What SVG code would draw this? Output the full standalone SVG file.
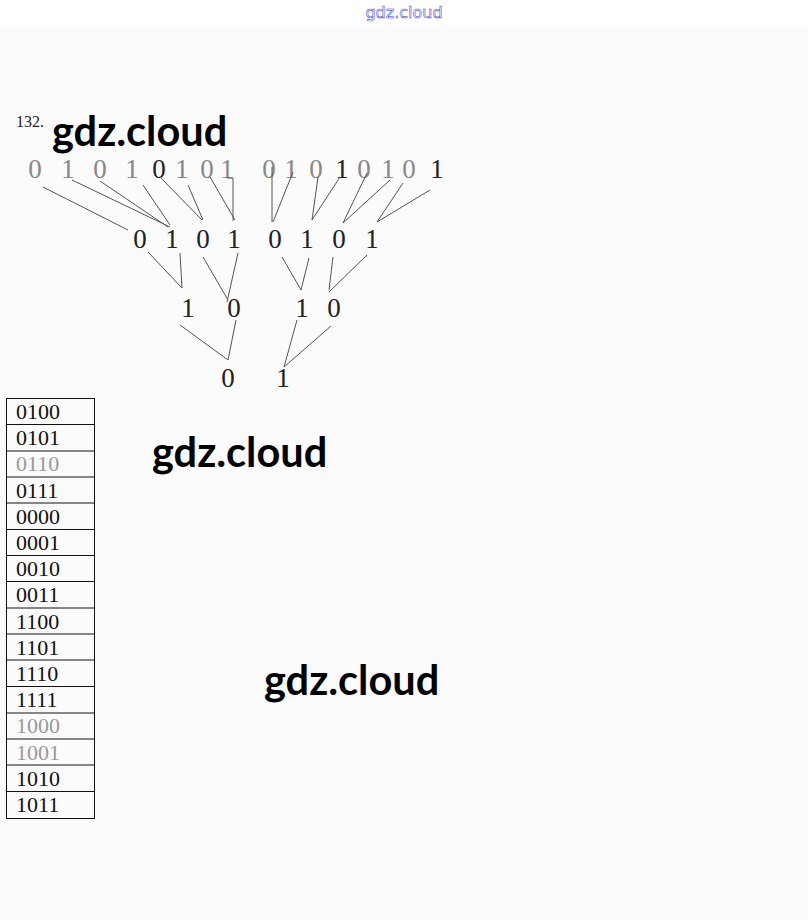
<svg xmlns="http://www.w3.org/2000/svg" width="808" height="920" viewBox="0 0 808 920">
<style>
.d{font-family:"Liberation Serif","Times New Roman",serif;font-size:27px;text-anchor:middle;fill:#222}
.t{font-family:"Liberation Serif","Times New Roman",serif;font-size:27px;text-anchor:middle;fill:#888}
.c{font-family:"Liberation Serif","Times New Roman",serif;font-size:22px;fill:#111}
.cg{font-family:"Liberation Serif","Times New Roman",serif;font-size:22px;fill:#999}
.wm{font-family:Lato,"Open Sans",sans-serif;font-weight:bold;font-size:41.5px;fill:#000}
.ln line,.ln polyline{stroke:#555;stroke-width:1;fill:none}
.row{fill:none;stroke:#111;stroke-width:1}
</style>
<rect x="0" y="0" width="808" height="920" fill="#fbfbfb"/>
<rect x="0" y="0" width="808" height="26" fill="#ffffff"/>
<text x="404" y="18" text-anchor="middle" font-family="DejaVu Sans,sans-serif" font-size="16" fill="#fff" stroke="#3333cc" stroke-width="0.5">gdz.cloud</text>
<text x="16" y="127" font-family="Liberation Serif,serif" font-size="16" fill="#222">132.</text>

<g id="top-row">
<g id="t1"><text class="t" x="35" y="178">0</text></g>
<g id="t2"><text class="t" x="68" y="178">1</text></g>
<g id="t3"><text class="t" x="100" y="178">0</text></g>
<g id="t4"><text class="t" x="132" y="178">1</text></g>
<g id="t5"><text class="d" x="159" y="178">0</text></g>
<g id="t6"><text class="t" x="182" y="178">1</text></g>
<g id="t7"><text class="t" x="207" y="178">0</text></g>
<g id="t8"><text class="t" x="227" y="178">1</text></g>
<g id="t9"><text class="t" x="269" y="178">0</text></g>
<g id="t10"><text class="t" x="291" y="178">1</text></g>
<g id="t11"><text class="t" x="316" y="178">0</text></g>
<g id="t12"><text class="d" x="342" y="178">1</text></g>
<g id="t13"><text class="t" x="364" y="178">0</text></g>
<g id="t14"><text class="t" x="388" y="178">1</text></g>
<g id="t15"><text class="t" x="409" y="178">0</text></g>
<g id="t16"><text class="d" x="437" y="178">1</text></g>
</g>

<g id="row2">
<g id="r2a"><text class="d" x="140" y="248">0</text></g>
<g id="r2b"><text class="d" x="172" y="248">1</text></g>
<g id="r2c"><text class="d" x="203" y="248">0</text></g>
<g id="r2d"><text class="d" x="234" y="248">1</text></g>
<g id="r2e"><text class="d" x="275" y="248">0</text></g>
<g id="r2f"><text class="d" x="307" y="248">1</text></g>
<g id="r2g"><text class="d" x="339" y="248">0</text></g>
<g id="r2h"><text class="d" x="372" y="248">1</text></g>
</g>

<g id="row3">
<g id="r3a"><text class="d" x="188" y="317">1</text></g>
<g id="r3b"><text class="d" x="234" y="317">0</text></g>
<g id="r3c"><text class="d" x="302" y="317">1</text></g>
<g id="r3d"><text class="d" x="334" y="317">0</text></g>
</g>

<g id="row4">
<g id="r4a"><text class="d" x="228" y="387">0</text></g>
<g id="r4b"><text class="d" x="283" y="387">1</text></g>
</g>

<g id="connectors" class="ln">
<line x1="43" y1="187" x2="128" y2="230"/>
<line x1="72" y1="180" x2="170" y2="227"/>
<line x1="100" y1="181" x2="168" y2="227"/>
<line x1="143" y1="185" x2="170" y2="225"/>
<line x1="160" y1="177" x2="202" y2="220"/>
<line x1="188" y1="185" x2="203" y2="220"/>
<line x1="210" y1="177" x2="235" y2="220"/>
<polyline points="227,178 233,178 233,221"/>
<line x1="272" y1="167" x2="272" y2="222"/>
<line x1="293" y1="172" x2="273" y2="222"/>
<line x1="318" y1="177" x2="312" y2="220"/>
<line x1="340" y1="177" x2="312" y2="220"/>
<line x1="367" y1="173" x2="343" y2="223"/>
<line x1="390" y1="180" x2="343" y2="223"/>
<line x1="403" y1="183" x2="377" y2="222"/>
<line x1="430" y1="190" x2="377" y2="222"/>
<line x1="148" y1="252" x2="182" y2="288"/>
<line x1="180" y1="253" x2="182" y2="288"/>
<line x1="203" y1="257" x2="228" y2="300"/>
<line x1="238" y1="253" x2="227" y2="302"/>
<line x1="282" y1="257" x2="301" y2="290"/>
<line x1="309" y1="258" x2="301" y2="290"/>
<line x1="333" y1="257" x2="329" y2="290"/>
<line x1="367" y1="255" x2="329" y2="292"/>
<line x1="180" y1="325" x2="228" y2="360"/>
<line x1="236" y1="320" x2="228" y2="360"/>
<line x1="297" y1="320" x2="284" y2="367"/>
<line x1="331" y1="326" x2="284" y2="367"/>
</g>

<g id="table">
<rect class="row" x="6.5" y="398.5" width="88" height="420"/>
<g class="row">
<line x1="6.5" y1="424.5" x2="94.5" y2="424.5"/>
<line x1="6.5" y1="451" x2="94.5" y2="451"/>
<line x1="6.5" y1="477" x2="94.5" y2="477"/>
<line x1="6.5" y1="503" x2="94.5" y2="503"/>
<line x1="6.5" y1="529.5" x2="94.5" y2="529.5"/>
<line x1="6.5" y1="555.5" x2="94.5" y2="555.5"/>
<line x1="6.5" y1="581.5" x2="94.5" y2="581.5"/>
<line x1="6.5" y1="608" x2="94.5" y2="608"/>
<line x1="6.5" y1="634" x2="94.5" y2="634"/>
<line x1="6.5" y1="660" x2="94.5" y2="660"/>
<line x1="6.5" y1="686.5" x2="94.5" y2="686.5"/>
<line x1="6.5" y1="713" x2="94.5" y2="713"/>
<line x1="6.5" y1="739" x2="94.5" y2="739"/>
<line x1="6.5" y1="765" x2="94.5" y2="765"/>
<line x1="6.5" y1="791.5" x2="94.5" y2="791.5"/>
</g>
<text class="c" x="16" y="419">0100</text>
<text class="c" x="16" y="445">0101</text>
<text class="cg" x="16" y="471">0110</text>
<text class="c" x="16" y="498">0111</text>
<text class="c" x="16" y="524">0000</text>
<text class="c" x="16" y="550">0001</text>
<text class="c" x="16" y="576">0010</text>
<text class="c" x="16" y="602">0011</text>
<text class="c" x="16" y="629">1100</text>
<text class="c" x="16" y="655">1101</text>
<text class="c" x="16" y="681">1110</text>
<text class="c" x="16" y="707">1111</text>
<text class="cg" x="16" y="733">1000</text>
<text class="cg" x="16" y="760">1001</text>
<text class="c" x="16" y="786">1010</text>
<text class="c" x="16" y="812">1011</text>
</g>

<text class="wm" x="52" y="146">gdz.cloud</text>
<text class="wm" x="152" y="467">gdz.cloud</text>
<text class="wm" x="264" y="695">gdz.cloud</text>
</svg>
